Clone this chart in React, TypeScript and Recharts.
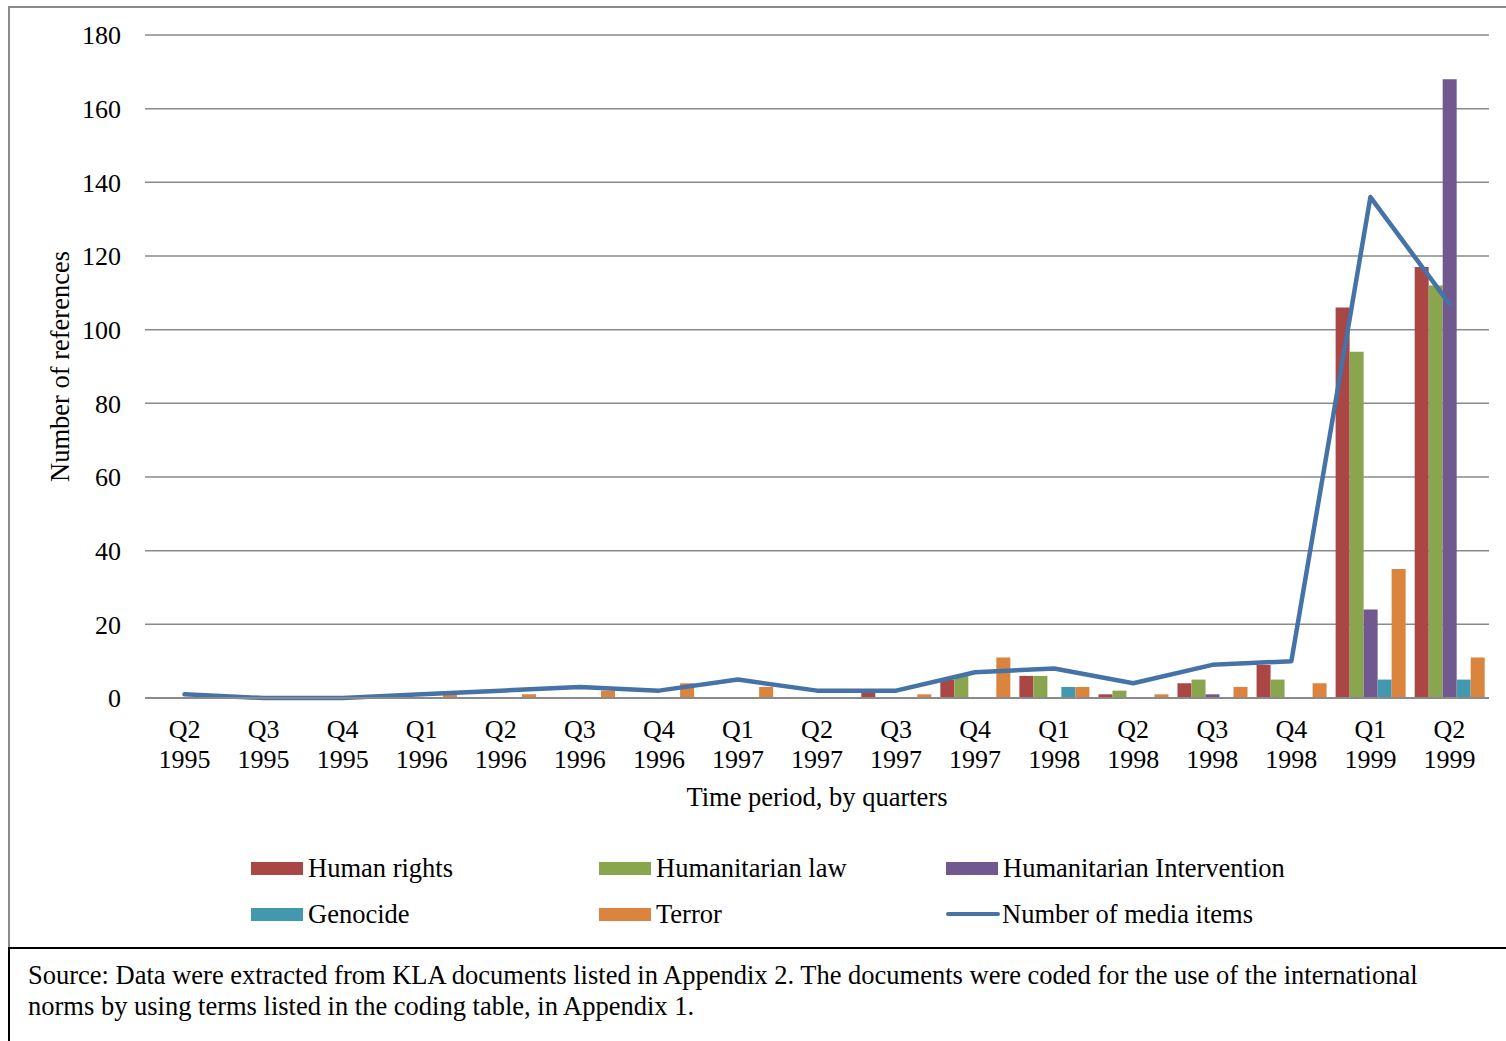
import { ComposedChart, Bar, Line, XAxis, YAxis, CartesianGrid } from "recharts";

const FONT = '"Liberation Serif", "Times New Roman", serif';

const quarters = [
  "Q2 1995", "Q3 1995", "Q4 1995",
  "Q1 1996", "Q2 1996", "Q3 1996", "Q4 1996",
  "Q1 1997", "Q2 1997", "Q3 1997", "Q4 1997",
  "Q1 1998", "Q2 1998", "Q3 1998", "Q4 1998",
  "Q1 1999", "Q2 1999",
];

const humanRights = [0, 0, 0, 0, 0, 0, 0, 0, 0, 2, 5, 6, 1, 4, 9, 106, 117];
const humanitarianLaw = [0, 0, 0, 0, 0, 0, 0, 0, 0, 0, 6, 6, 2, 5, 5, 94, 112];
const intervention = [0, 0, 0, 0, 0, 0, 0, 0, 0, 0, 0, 0, 0, 1, 0, 24, 168];
const genocide = [0, 0, 0, 0, 0, 0, 0, 0, 0, 0, 0, 3, 0, 0, 0, 5, 5];
const terror = [0, 0, 0, 1, 1, 2, 4, 3, 0, 1, 11, 3, 1, 3, 4, 35, 11];
const mediaItems = [1, 0, 0, 1, 2, 3, 2, 5, 2, 2, 7, 8, 4, 9, 10, 136, 107];

const yTicks = [0, 20, 40, 60, 80, 100, 120, 140, 160, 180];

const barSeries = [
  { key: "humanRights", name: "Human rights", color: "#AA4643", values: humanRights },
  { key: "humanitarianLaw", name: "Humanitarian law", color: "#89A54E", values: humanitarianLaw },
  { key: "intervention", name: "Humanitarian Intervention", color: "#71588F", values: intervention },
  { key: "genocide", name: "Genocide", color: "#4198AF", values: genocide },
  { key: "terror", name: "Terror", color: "#DB843D", values: terror },
];
const lineSeries = { key: "media", name: "Number of media items", color: "#4572A7", values: mediaItems };

const data = quarters.map((quarter, i) => {
  const row: Record<string, string | number> = { quarter };
  barSeries.forEach((s) => (row[s.key] = s.values[i]));
  row[lineSeries.key] = lineSeries.values[i];
  return row;
});

// legend is laid out in three columns, two rows
const legendItems = [
  { ...barSeries[0], type: "bar", left: 251, top: 855 },
  { ...barSeries[1], type: "bar", left: 599, top: 855 },
  { ...barSeries[2], type: "bar", left: 946, top: 855 },
  { ...barSeries[3], type: "bar", left: 251, top: 901 },
  { ...barSeries[4], type: "bar", left: 599, top: 901 },
  { ...lineSeries, type: "line", left: 946, top: 901 },
];

function QuarterTick({ x, y, payload }: any) {
  const [q, year] = String(payload.value).split(" ");
  return (
    <text x={x} y={y} textAnchor="middle" fontSize={26} fill="#000" fontFamily={FONT}>
      <tspan x={x} dy={40}>{q}</tspan>
      <tspan x={x} dy={30}>{year}</tspan>
    </text>
  );
}

function XTitle({ viewBox }: any) {
  const cx = viewBox.x + viewBox.width / 2;
  return (
    <text x={cx} y={viewBox.y + 108} textAnchor="middle" fontSize={26.5} fill="#000" fontFamily={FONT}>
      Time period, by quarters
    </text>
  );
}

function YTitle({ viewBox }: any) {
  const x = 59;
  const y = viewBox.y + viewBox.height / 2;
  return (
    <text
      x={x}
      y={y}
      textAnchor="middle"
      fontSize={26.5}
      fill="#000"
      fontFamily={FONT}
      transform={`rotate(-90, ${x}, ${y})`}
    >
      Number of references
    </text>
  );
}

export default function App() {
  return (
    <div style={{ position: "absolute", left: 0, top: 0, width: 1506, height: 1041, background: "#fff", fontFamily: FONT }}>
      <div
        style={{
          position: "absolute",
          left: 8,
          top: 6,
          width: 1498,
          height: 941,
          borderTop: "2px solid #8a8a8a",
          borderLeft: "2px solid #8a8a8a",
          boxSizing: "border-box",
        }}
      >
        <ComposedChart
          width={1496}
          height={830}
          data={data}
          margin={{ top: 27, right: 17, left: 0, bottom: 20 }}
          barCategoryGap="6%"
          barGap={0}
        >
          <CartesianGrid vertical={false} stroke="#8a8a8a" strokeWidth={1.5} />
          <XAxis
            dataKey="quarter"
            height={120}
            interval={0}
            tickLine={false}
            tickSize={0}
            tickMargin={0}
            axisLine={{ stroke: "#8a8a8a", strokeWidth: 2 }}
            tick={<QuarterTick />}
            label={{ content: (p: any) => <XTitle viewBox={p.viewBox} /> }}
          />
          <YAxis
            width={135}
            domain={[0, 180]}
            ticks={yTicks}
            interval={0}
            axisLine={false}
            tickLine={false}
            tickSize={0}
            tickMargin={24}
            tick={{ fontSize: 26, fill: "#000", fontFamily: FONT }}
            label={{ content: (p: any) => <YTitle viewBox={p.viewBox} /> }}
          />
          {barSeries.map((s) => (
            <Bar key={s.key} dataKey={s.key} name={s.name} fill={s.color} isAnimationActive={false} />
          ))}
          <Line
            type="linear"
            dataKey={lineSeries.key}
            name={lineSeries.name}
            stroke={lineSeries.color}
            strokeWidth={4.5}
            strokeLinecap="round"
            strokeLinejoin="round"
            dot={false}
            activeDot={false}
            isAnimationActive={false}
          />
        </ComposedChart>
      </div>

      {legendItems.map((item) => (
        <div
          key={item.key}
          style={{ position: "absolute", left: item.left, top: item.top, display: "flex", alignItems: "center", height: 26 }}
        >
          {item.type === "bar" ? (
            <div style={{ width: 52, height: 13, background: item.color }} />
          ) : (
            <div style={{ width: 54, height: 4, background: item.color, borderRadius: 2 }} />
          )}
          <span style={{ marginLeft: item.type === "bar" ? 5 : 2, fontSize: 26.5, lineHeight: "26px", color: "#000" }}>
            {item.name}
          </span>
        </div>
      ))}

      <div
        style={{
          position: "absolute",
          left: 8,
          top: 947,
          width: 1498,
          height: 94,
          borderTop: "2px solid #000",
          borderLeft: "2px solid #000",
          boxSizing: "border-box",
          padding: "11px 0 0 18px",
          fontSize: 26.5,
          lineHeight: "31px",
          color: "#000",
          whiteSpace: "nowrap",
        }}
      >
        <div>
          Source: Data were extracted from KLA documents listed in Appendix 2. The documents were coded for the use of the international
        </div>
        <div>norms by using terms listed in the coding table, in Appendix 1.</div>
      </div>
    </div>
  );
}
